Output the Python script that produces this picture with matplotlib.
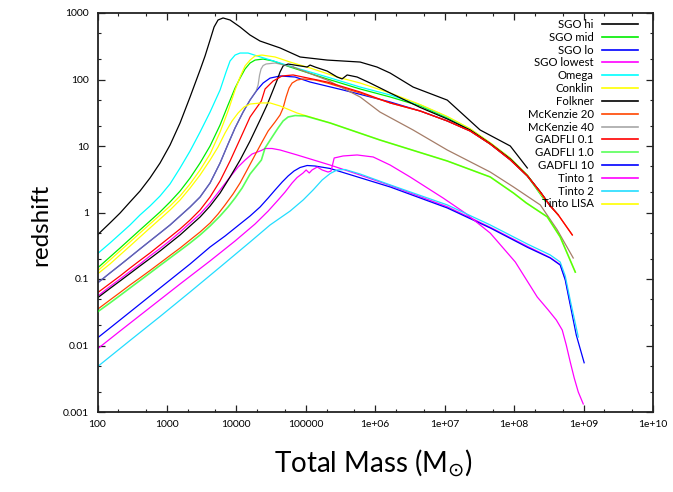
import matplotlib
matplotlib.use("Agg")
import matplotlib.pyplot as plt
from matplotlib.ticker import FixedLocator, FuncFormatter, NullFormatter

plt.rcParams['font.family'] = ['Lato', 'DejaVu Sans']
plt.rcParams['mathtext.fontset'] = 'dejavusans'

# ---------------- data (total mass [Msun], redshift) ----------------
sgo_hi_m = [100, 151, 211, 294, 409, 570, 796, 1109, 1545, 2153, 3000, 3541, 4180, 4775, 5445, 6430,
            8110, 11300, 15700, 21900, 42700, 82800, 2.03e5, 6.06e5, 1.06e6, 1.64e6, 3.51e6,
            1.09e7, 3.24e7, 8.8e7, 1.55e8]
sgo_hi_z = [0.46, 0.695, 0.98, 1.44, 2.10, 3.30, 5.55, 10.35, 22.2, 54.6, 139, 226, 393, 616, 785, 842,
            785, 616, 467, 379, 298, 218, 196, 183, 154, 125, 77,
            49, 17.4, 10, 4.67]

sgo_mid_m = [100, 151, 211, 294, 409, 570, 796, 1109, 1545, 2153, 3000, 4180, 5823, 7590, 9576, 11303,
             13342, 15748, 18588, 24270, 33800, 59340, 2.03e5, 6.06e5,
             1.64e6, 4.44e6, 1.09e7, 2.33e7, 4.53e7, 8.79e7, 1.55e8, 2.81e8]
sgo_mid_z = [0.146, 0.214, 0.292, 0.40, 0.546, 0.745, 1.02, 1.44, 2.10, 3.30, 5.55, 10.0, 20.7, 41.4, 74.5, 105,
             144, 177, 196, 203, 190, 154, 102, 72,
             54.6, 40, 26.5, 17.4, 10.7, 6.4, 3.54, 1.48]

sgo_lo_m = [100, 151, 211, 294, 409, 570, 796, 1109, 1545, 2153, 3000, 4180, 5823, 7590, 9576, 12500,
            15748, 19860, 24270, 30570, 42590, 70040, 1.152e5, 3.44e5,
            1.64e6, 4.44e6, 1.09e7, 2.33e7, 4.53e7, 8.79e7, 1.55e8, 2.38e8, 3.31e8]
sgo_lo_z = [0.087, 0.123, 0.162, 0.214, 0.283, 0.373, 0.492, 0.649, 0.886, 1.21, 1.71, 2.78, 5.55, 10.7, 18.7, 32.4,
            49.2, 69.5, 88.5, 105, 113, 109, 91.6, 69.5,
            45.9, 33.6, 23.8, 16.8, 10.7, 6.2, 3.54, 2.03, 1.25]

sgo_lowest_m = [100, 151, 211, 294, 409, 570, 796, 1109, 1545, 2153, 3000, 4180, 5823, 8110, 10570, 13342,
                16830, 22900, 25900, 32660, 42590, 75000, 2.24e5, 5.48e5,
                1.64e6, 1.09e7, 4.53e7, 1.55e8, 3.31e8, 4.61e8, 5.45e8, 6.43e8]
sgo_lowest_z = [0.055, 0.0771, 0.10, 0.13, 0.168, 0.222, 0.288, 0.379, 0.509, 0.695, 0.949, 1.39, 2.18, 3.42, 4.83, 6.15,
                7.58, 8.56, 9.17, 9.17, 8.71, 7.33, 5.17, 3.79,
                2.55, 1.22, 0.6, 0.31, 0.21, 0.165, 0.1, 0.043]

omega_m = [100, 151, 211, 294, 409, 570, 796, 1109, 1545, 2153, 3000, 4180, 5823, 7110, 8110, 9576,
           11303, 14760, 19900, 42590, 65600, 2.03e5, 6.06e5,
           1.64e6, 4.44e6, 1.09e7, 2.33e7, 4.53e7, 8.79e7, 1.55e8, 2.81e8]
omega_z = [0.24, 0.347, 0.475, 0.649, 0.917, 1.25, 1.77, 2.69, 4.67, 8.41, 16.2, 32.4, 69.5, 130, 190, 233,
           250, 250, 226, 177, 154, 109, 77,
           58.5, 41.4, 27.3, 18.0, 11.1, 6.6, 3.66, 1.54]

conklin_m = [100, 151, 211, 294, 409, 570, 796, 1109, 1545, 2153, 3000, 4180, 5823, 7590, 9576, 11303,
             13342, 15748, 18588, 23430, 36080, 59340, 1.152e5, 2.83e5, 6.06e5,
             1.64e6, 4.44e6, 1.09e7, 2.33e7, 4.53e7, 8.79e7, 1.55e8, 2.81e8]
conklin_z = [0.132, 0.193, 0.264, 0.36, 0.492, 0.672, 0.917, 1.25, 1.77, 2.69, 4.36, 7.58, 16.2, 33.6, 69.5, 109,
             160, 196, 226, 233, 218, 183, 149, 109, 88.5,
             62.7, 42, 27.8, 18.2, 11.2, 6.6, 3.66, 1.54]

folkner_m = [100, 151, 211, 294, 409, 570, 796, 1109, 1545, 2153, 3000, 4180, 5823, 8110, 11303, 15748,
             21940, 27670, 33800, 38630, 42590, 47100, 55600, 82670, 1.045e5,
             1.152e5, 1.36e5, 2.03e5, 2.83e5, 3.33e5, 3.94e5, 5.48e5, 8.44e5,
             1.64e6, 4.44e6, 1.09e7, 2.33e7, 4.53e7, 8.79e7, 1.55e8, 2.38e8, 3.31e8, 4.32e8]
folkner_z = [0.052, 0.072, 0.0933, 0.121, 0.157, 0.203, 0.264, 0.348, 0.459, 0.627, 0.855, 1.25, 1.96, 3.42, 6.15, 11.9,
             24.6, 41.4, 69.5, 98.2, 130, 160, 171, 160, 154,
             165, 154, 134, 109, 102, 117, 109, 88.5,
             62.7, 38, 25.5, 17.4, 10.9, 6.4, 3.6, 2.05, 1.27, 0.92]

mck20_m = [100, 151, 211, 294, 409, 570, 796, 1109, 1545, 2153, 3000, 4180, 5445, 6873, 8960, 11303,
           14260, 18588, 23430, 28660, 36080, 42590, 47100, 52000, 57400, 63500, 75000, 91400, 1.36e5, 2.03e5, 6.06e5,
           1.64e6, 4.44e6, 1.09e7, 2.33e7, 4.53e7, 8.79e7, 1.55e8, 2.38e8, 3.31e8, 4.32e8, 6.88e8]
mck20_z = [0.035, 0.0483, 0.0626, 0.0813, 0.104, 0.134, 0.174, 0.226, 0.292, 0.386, 0.509, 0.695, 0.949, 1.30, 1.90, 2.78,
           4.36, 7.33, 11.5, 16.8, 23.0, 29.3, 37.3, 54.6, 74.5, 88.5, 98.2, 102, 98.2, 88.5, 62.7,
           44.4, 33.6, 23.8, 16.8, 10.7, 6.2, 3.54, 2.03, 1.25, 0.92, 0.46]

mck40_m = [100, 151, 211, 294, 409, 570, 796, 1109, 1545, 2153, 3000, 4180, 5823, 7590, 9576, 12500,
           15748, 19230, 20540, 21580, 22680, 24270, 26770, 36080, 65600,
           2.03e5, 6.06e5, 1.17e6, 3.51e6, 1.09e7, 4.53e7, 9.8e7, 2.38e8, 4.17e8, 7.1e8]
mck40_z = [0.087, 0.123, 0.162, 0.214, 0.283, 0.373, 0.492, 0.649, 0.886, 1.21, 1.71, 2.78, 5.55, 10.7, 18.7, 32.4,
           49.2, 67.1, 82.6, 117, 144, 162, 171, 177, 154,
           98.2, 54.6, 32.4, 17.4, 8.7, 4.06, 2.42, 1.30, 0.55, 0.207]

gadfli01_m = [100, 151, 211, 294, 409, 570, 796, 1109, 1545, 2153, 3000, 4180, 5823, 8110, 11303, 15748,
              22900, 25900, 33800, 45600, 65600, 2.03e5, 6.06e5,
              1.64e6, 4.44e6, 1.09e7, 2.33e7, 4.53e7, 8.79e7, 1.55e8, 2.38e8, 3.31e8, 4.32e8, 6.88e8]
gadfli01_z = [0.062, 0.0855, 0.111, 0.146, 0.19, 0.246, 0.325, 0.428, 0.565, 0.771, 1.09, 1.71, 2.98, 5.95, 12.7, 27.3,
              47.5, 72, 94.8, 113, 117, 91.6, 64.9,
              44.4, 33.6, 23.8, 16.8, 10.7, 6.2, 3.54, 2.03, 1.25, 0.92, 0.46]

gadfli1_m = [100, 151, 211, 294, 409, 570, 796, 1109, 1545, 2153, 3000, 4180, 5823, 7590, 9576, 12080,
             15748, 22900, 25900, 32660, 39900, 47100, 55600, 70040, 97700, 2.238e5,
             1.17e6, 1.09e7, 4.53e7, 9.8e7, 1.5e8, 3.0e8, 4.6e8, 7.6e8]
gadfli1_z = [0.032, 0.0436, 0.0565, 0.0733, 0.0949, 0.123, 0.16, 0.207, 0.268, 0.348, 0.459, 0.627, 0.886, 1.21, 1.65, 2.33,
             3.79, 6.15, 9.33, 13.6, 18.7, 23.8, 27.3, 28.7, 28.3, 22.2,
             12.3, 5.95, 3.42, 1.96, 1.39, 0.86, 0.43, 0.127]

gadfli10_m = [100, 151, 294, 570, 1109, 2153, 4180, 6873, 11303, 15748, 21940, 28660, 36080, 45600, 55600,
              67700, 82670, 1.045e5, 1.36e5, 2.238e5, 1.64e6,
              1.09e7, 4.53e7, 1.55e8, 3.31e8, 4.61e8, 5.45e8, 6.43e8, 7.85e8, 1.02e9]
gadfli10_z = [0.013, 0.0183, 0.0319, 0.0555, 0.0966, 0.168, 0.303, 0.443, 0.672, 0.886, 1.21, 1.65, 2.18, 2.87, 3.54,
              4.21, 4.75, 5.09, 5.0, 4.59, 2.42,
              1.17, 0.585, 0.30, 0.207, 0.162, 0.0966, 0.0406, 0.0144, 0.0055]

tinto1_m = [100, 211, 570, 1545, 4180, 9576, 18588, 28660, 39900, 50270, 63500, 75000, 91400, 1.01e5, 1.12e5,
            1.23e5, 1.46e5, 1.72e5, 2.09e5, 2.31e5, 2.56e5, 3.44e5, 5.48e5, 9.33e5, 1.64e6, 3.18e6, 9.5e6,
            1.97e7, 4.53e7, 1.04e8, 2.153e8, 3.10e8, 4.05e8, 4.93e8, 5.63e8, 6.43e8, 7.34e8, 8.39e8, 9.9e8]
tinto1_z = [0.0089, 0.0165, 0.0372, 0.0841, 0.187, 0.373, 0.672, 1.05, 1.54, 2.03, 2.78, 3.36, 3.93, 4.36, 3.93,
            4.36, 4.83, 4.36, 4.06, 4.2, 6.6, 7.08, 7.33, 6.84, 5.17, 3.42, 1.65,
            0.983, 0.49, 0.18, 0.0536, 0.0342, 0.0242, 0.0171, 0.0102, 0.00565, 0.00324, 0.002, 0.00132]

tinto2_m = [100, 294, 796, 2153, 5823, 15748, 30570, 59340, 91400, 1.273e5, 1.718e5, 2.238e5, 2.826e5,
            3.68e5, 6.06e5, 1.64e6, 1.09e7, 4.53e7, 1.55e8, 3.31e8, 4.61e8, 5.45e8, 6.43e8, 8.4e8]
tinto2_z = [0.0048, 0.0119, 0.0273, 0.0638, 0.151, 0.36, 0.649, 1.05, 1.54, 2.18, 3.08, 3.85, 4.36,
            4.43, 3.79, 2.6, 1.30, 0.65, 0.336, 0.23, 0.18, 0.111, 0.048, 0.0134]

tinto_lisa_m = [100, 151, 211, 294, 409, 570, 796, 1109, 1545, 2153, 3000, 4180, 5445, 6873, 8670, 10570,
                12900, 15748, 22900, 30570, 42590, 75000, 2.238e5,
                1.17e6, 1.09e7, 4.53e7, 9.8e7, 1.5e8, 3.0e8, 4.6e8, 7.6e8]
tinto_lisa_z = [0.119, 0.168, 0.23, 0.313, 0.428, 0.585, 0.798, 1.09, 1.54, 2.33, 3.66, 6.15, 9.66, 15.7, 23.8, 31.3,
                38.6, 42.8, 44.4, 44.4, 40, 31.3, 22.2,
                12.3, 5.95, 3.42, 1.96, 1.39, 0.86, 0.43, 0.127]

labels = ["SGO hi", "SGO mid", "SGO lo", "SGO lowest", "Omega", "Conklin", "Folkner",
          "McKenzie 20", "McKenzie 40", "GADFLI 0.1", "GADFLI 1.0", "GADFLI 10",
          "Tinto 1", "Tinto 2", "Tinto LISA"]
x_ticks = [1e2, 1e3, 1e4, 1e5, 1e6, 1e7, 1e8, 1e9, 1e10]
x_tick_labels = ["100", "1000", "10000", "100000", "1e+06", "1e+07", "1e+08", "1e+09", "1e+10"]
y_ticks = [1e-3, 1e-2, 1e-1, 1, 10, 100, 1000]
y_tick_labels = ["0.001", "0.01", "0.1", "1", "10", "100", "1000"]

# ---------------- figure ----------------
fig = plt.figure(figsize=(6.73, 4.92), dpi=100)
ax = fig.add_axes([97.5 / 673, 1 - 412 / 492, 555.5 / 673, 399 / 492])
ax.set_xscale('log')
ax.set_yscale('log')

lw = 0.9
series = [
    (sgo_hi_m, sgo_hi_z, 'black', {}),
    (sgo_mid_m, sgo_mid_z, '#00ee00', {}),
    (sgo_lo_m, sgo_lo_z, '#0000ff', {}),
    (sgo_lowest_m, sgo_lowest_z, '#ff00ff', {}),
    (omega_m, omega_z, '#00ffff', {}),
    (conklin_m, conklin_z, '#ffff00', {}),
    (folkner_m, folkner_z, 'black', {}),
    (mck20_m, mck20_z, '#ff4500', {}),
    None,  # McKenzie 40 handled separately
    (gadfli01_m, gadfli01_z, '#ff0000', {}),
    (gadfli1_m, gadfli1_z, '#00ff00', {'alpha': 0.65, 'zorder': 4, 'lw': 1.2}),
    (gadfli10_m, gadfli10_z, '#0000ff', {}),
    (tinto1_m, tinto1_z, '#ff00ff', {}),
    (tinto2_m, tinto2_z, '#22ddff', {}),
    (tinto_lisa_m, tinto_lisa_z, '#ffff00', {}),
]

handles = []
for i, s in enumerate(series):
    if s is None:
        k = 24  # split index: gray rising part, brownish decline
        h, = ax.plot(mck40_m[:k + 1], mck40_z[:k + 1], color='#8a8a8a', lw=lw, alpha=0.75)
        ax.plot(mck40_m[k:], mck40_z[k:], color='#a57d68', lw=lw)
        h.set_label(labels[i])
        handles.append(h)
        continue
    m, z, c, kw = s
    kw = dict(kw)
    w = kw.pop('lw', lw)
    h, = ax.plot(m, z, color=c, lw=w, label=labels[i], **kw)
    handles.append(h)

ax.set_xlim(1e2, 1e10)
ax.set_ylim(1e-3, 1e3)

ax.xaxis.set_major_locator(FixedLocator(x_ticks))
ax.xaxis.set_major_formatter(FuncFormatter(lambda v, p: x_tick_labels[x_ticks.index(v)] if v in x_ticks else ""))
ax.yaxis.set_major_locator(FixedLocator(y_ticks))
ax.yaxis.set_major_formatter(FuncFormatter(lambda v, p: y_tick_labels[y_ticks.index(v)] if v in y_ticks else ""))
x_minor = [d * f for d in x_ticks[:-1] for f in (2, 5)]
y_minor = [d * f for d in y_ticks[:-1] for f in (2, 5)]
ax.xaxis.set_minor_locator(FixedLocator(x_minor))
ax.yaxis.set_minor_locator(FixedLocator(y_minor))
ax.xaxis.set_minor_formatter(NullFormatter())
ax.yaxis.set_minor_formatter(NullFormatter())

ax.tick_params(which='both', direction='in', top=True, right=True, colors='#222222', labelcolor='black')
ax.tick_params(which='major', length=5, width=0.9, labelsize=7.5, pad=6)
ax.tick_params(which='minor', length=2.5, width=0.8)
for sp in ax.spines.values():
    sp.set_linewidth(1.3)
    sp.set_color('#222222')

ax.set_xlabel('Total Mass (M$_{\\odot}$)', fontsize=20)
ax.set_ylabel('redshift', fontsize=17.5)
ax.xaxis.set_label_coords(0.497, -0.128)
ax.xaxis.label.set_va('center')
ax.yaxis.set_label_coords(-0.103, 0.47)
ax.yaxis.label.set_va('center')

leg = ax.legend(handles=handles, loc='upper right', bbox_to_anchor=(0.973, 0.985),
                frameon=False, markerfirst=False, fontsize=8.2, labelspacing=0.16,
                handlelength=3.2, handletextpad=0.7, borderpad=0, borderaxespad=0)
for lh in leg.get_lines():
    lh.set_linewidth(1.2)

fig.savefig('out.png', dpi=100)
